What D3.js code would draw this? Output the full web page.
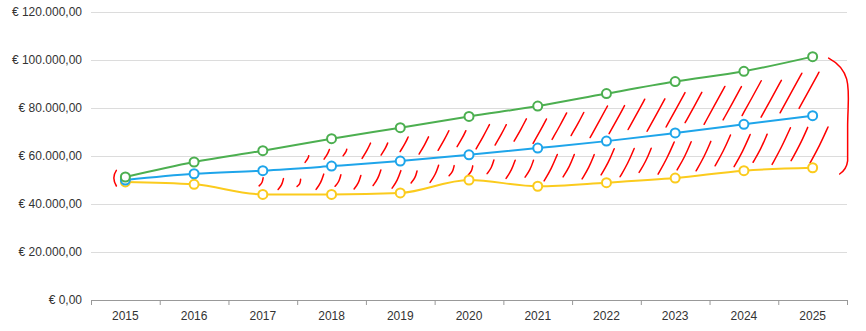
<!DOCTYPE html>
<html>
<head>
<meta charset="utf-8">
<script src="https://cdn.jsdelivr.net/npm/d3@7/dist/d3.min.js"></script>
<style>
  html, body { margin: 0; padding: 0; background: #fff; }
  svg { display: block; font-family: "Liberation Sans", Arial, sans-serif; }
</style>
</head>
<body>
<svg id="chart" width="866" height="331"></svg>
<script>
// Years on the x axis
const years = ["2015","2016","2017","2018","2019","2020","2021","2022","2023","2024","2025"];

// Series values (euro)
const greenValues  = [51250, 57500, 62200, 67200, 71800, 76500, 80800, 86000, 91000, 95300, 101400];
const blueValues   = [50000, 52600, 53900, 55800, 57900, 60500, 63300, 66200, 69600, 73200, 76800];
const yellowValues = [49200, 48200, 44000, 44000, 44600, 50000, 47400, 48900, 50800, 53900, 55100];

// Y axis ticks
const yTicks = [0, 20000, 40000, 60000, 80000, 100000, 120000];

const seriesList = [
  { name: "green",  color: "#4caf50", values: greenValues },
  { name: "blue",   color: "#1ea5ea", values: blueValues },
  { name: "yellow", color: "#fbcb1d", values: yellowValues }
];

const svg = d3.select("#chart");
const margin = { left: 91, right: 19, top: 12, bottom: 31 };
const W = 866, H = 331;

const x = d3.scaleBand().domain(years).range([margin.left, W - margin.right]);
const y = d3.scaleLinear().domain([0, 120000]).range([H - margin.bottom, margin.top]);
const cx = d => x(d) + x.bandwidth() / 2;

const fmt = v => "€ " + v.toLocaleString("de-DE", { minimumFractionDigits: 2, maximumFractionDigits: 2 });

// Gridlines + y labels
const yAxis = d3.axisLeft(y).tickValues(yTicks).tickSize(-(W - margin.left - margin.right)).tickFormat(fmt).tickPadding(9);
const gy = svg.append("g").attr("transform", `translate(${margin.left},0)`).call(yAxis);
gy.select(".domain").remove();
gy.selectAll(".tick line").attr("stroke", "#dcdcdc");
gy.selectAll(".tick text").attr("fill", "#333").attr("font-size", 12);

// X axis
const xAxis = d3.axisBottom(x).tickSize(0).tickPadding(11);
const gx = svg.append("g").attr("transform", `translate(0,${y(0)})`).call(xAxis);
gx.select(".domain").attr("stroke", "#999");
gx.selectAll(".tick text").attr("fill", "#333").attr("font-size", 12);
// ticks at band boundaries
const bounds = years.map(d => x(d)).concat([x(years[years.length - 1]) + x.bandwidth()]);
svg.append("g").selectAll("line").data(bounds).join("line")
  .attr("x1", d => d + 0.5).attr("x2", d => d + 0.5)
  .attr("y1", y(0)).attr("y2", y(0) + 5)
  .attr("stroke", "#999");

// Red hand-drawn hatching between the lines
const interp = (vals, px) => {
  const pts = years.map(cx);
  if (px <= pts[0]) return vals[0];
  for (let i = 0; i < pts.length - 1; i++) {
    if (px <= pts[i + 1]) {
      const t = (px - pts[i]) / (pts[i + 1] - pts[i]);
      return vals[i] + t * (vals[i + 1] - vals[i]);
    }
  }
  return vals[vals.length - 1];
};
const hatch = svg.append("g").attr("fill", "none").attr("stroke", "#f00").attr("stroke-width", 1.5).attr("stroke-linecap", "round");
const strokes = [];
const step = 19;
const first = cx("2015"), last = cx("2025");
const startX = cx("2016") + 8, endX = last + 14, maxX = last + 27;
for (let px = startX, k = 0; px < endX; px += step, k++) {
  const yl = y(interp(yellowValues, px)), yb = y(interp(blueValues, px)), yg = y(interp(greenValues, px));
  // lower band: yellow to blue
  const lowTop = yb + 7 + (k % 3) * 2, lowBot = yl - 5 - (k % 2) * 3;
  if (lowBot - lowTop > 6) {
    const h = lowBot - lowTop;
    if (px + h * 0.5 < maxX)
      strokes.push([[px, lowBot], [px + h * 0.22 + 1.5, (lowTop + lowBot) / 2 + 1], [px + h * 0.5, lowTop]]);
  }
  // upper band: blue to green
  const upTop = yg + 8 + (k % 2) * 3, upBot = yb - 6 - ((k + 1) % 3) * 2;
  if (upBot - upTop > 6) {
    const h = upBot - upTop;
    const ox = px + 8;
    if (ox + h * 0.55 < maxX)
      strokes.push([[ox, upBot], [ox + h * 0.25 + 1.5, (upTop + upBot) / 2 - 1], [ox + h * 0.55, upTop]]);
  }
}
hatch.selectAll("path.h").data(strokes).join("path").attr("class", "h")
  .attr("d", d3.line().curve(d3.curveBasis));

// brackets
hatch.append("path")
  .attr("d", `M${first - 9},${y(54000)} Q${first - 14},${y(51000)} ${first - 9},${y(47500)}`);
hatch.append("path")
  .attr("d", `M${last + 16},${y(100800)} C${last + 42},${y(95000)} ${last + 35},${y(86000)} ${last + 35},${y(72000)} L${last + 35},${y(58000)} Q${last + 34},${y(54500)} ${last + 27},${y(52500)}`);

// Lines and markers
const line = d3.line().x((d, i) => cx(years[i])).y(d => y(d)).curve(d3.curveMonotoneX);
seriesList.slice().reverse().forEach(s => {
  svg.append("path").datum(s.values)
    .attr("d", line).attr("fill", "none")
    .attr("stroke", s.color).attr("stroke-width", 2);
});
seriesList.slice().reverse().forEach(s => {
  svg.append("g").selectAll("circle").data(s.values).join("circle")
    .attr("cx", (d, i) => cx(years[i])).attr("cy", d => y(d)).attr("r", 4.5)
    .attr("fill", "#fff").attr("stroke", s.color).attr("stroke-width", 2);
});
</script>
</body>
</html>
